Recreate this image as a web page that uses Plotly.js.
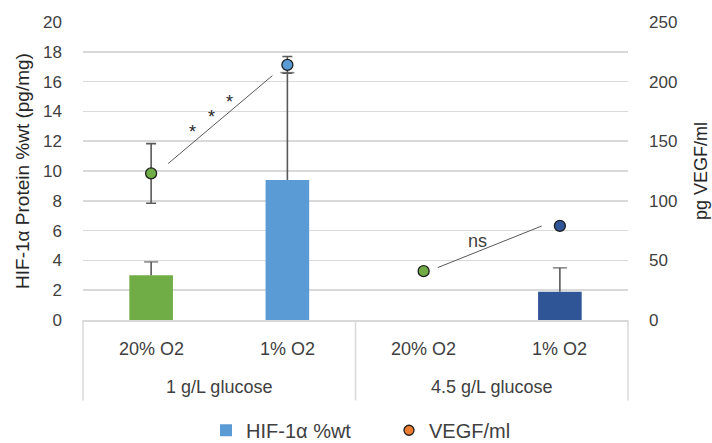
<!DOCTYPE html>
<html>
<head>
<meta charset="utf-8">
<script src="https://cdn.plot.ly/plotly-3.0.1.min.js"></script>
<style>
  html, body { margin: 0; padding: 0; background: #fff; }
  #chart { width: 712px; height: 443px; }
</style>
</head>
<body>
<div id="chart"></div>
<script>
// Glucose level (outer group) and oxygen condition (inner category)
const glucose = ["1 g/L glucose", "1 g/L glucose", "4.5 g/L glucose", "4.5 g/L glucose"];
const oxygen = ["20% O2", "1% O2", "20% O2", "1% O2"];

// HIF-1α protein (pg/mg), left axis, with upper error
const hifValues = [3.0, 9.4, null, 1.9];
const hifErrors = [0.9, 7.2, null, 1.6];

// VEGF (pg/ml), right axis, with symmetric error
const vegfValues = [123, 214, 41, 79];
const vegfErrors = [25, 7, 0, 0];

// Significance lines: [category offset, HIF value] endpoints
const sigLine1 = [[0.125, 10.5], [0.89, 16.4]];
const sigStars = [[0.306, 12.9], [0.446, 13.9], [0.575, 14.9]];
const sigLine2 = [[2.104, 3.52], [2.867, 6.31]];
const nsLabel = [2.393, 5.3];

const barColors = ["#70AD47", "#5B9BD5", "#70AD47", "#2F5597"];
const dotColors = ["#70AD47", "#5B9BD5", "#70AD47", "#2F5597"];

const FONT = "Liberation Sans, Arial, sans-serif";
const TXT = "#404040";
const GRID = "#D9D9D9";
const ERR = "#595959";

const nCat = oxygen.length;
const xCats = [glucose, oxygen];
// category index -> paper x (axis range is [-0.5, nCat - 0.5])
const cx = c => (c + 0.5) / nCat;

const traces = [
  {
    type: "bar",
    x: xCats,
    y: hifValues,
    width: 0.32,
    marker: { color: barColors },
    showlegend: false,
    hoverinfo: "skip"
  }
];

// Upward-only error bars on the HIF bars: a stem from the bar top plus a cap
hifValues.forEach((v, i) => {
  if (v == null || hifErrors[i] == null) return;
  traces.push({
    type: "scatter",
    mode: "lines+markers",
    x: [[glucose[i], glucose[i]], [oxygen[i], oxygen[i]]],
    y: [v, v + hifErrors[i]],
    line: { color: ERR, width: 1.6 },
    marker: { symbol: "line-ew-open", size: [0, 10], color: ERR, line: { color: ERR, width: 1.6 } },
    showlegend: false,
    hoverinfo: "skip"
  });
});

traces.push(
  {
    type: "scatter",
    mode: "markers",
    x: xCats,
    y: vegfValues,
    yaxis: "y2",
    marker: { size: 11, color: dotColors, line: { color: "#1F1F1F", width: 1.3 } },
    error_y: { type: "data", array: vegfErrors, color: ERR, thickness: 1.6, width: 5 },
    showlegend: false,
    hoverinfo: "skip"
  },
  // legend entries
  {
    type: "bar", name: "HIF-1α %wt", x: [[glucose[0]], [oxygen[0]]], y: [null],
    marker: { color: "#5B9BD5" }, showlegend: true
  },
  {
    type: "scatter", mode: "markers", name: "VEGF/ml", x: [[glucose[0]], [oxygen[0]]], y: [null],
    yaxis: "y2", marker: { size: 10, color: "#ED7D31", line: { color: "#1F1F1F", width: 1.3 } },
    showlegend: true
  }
);

const shapes = [sigLine1, sigLine2].map(seg => ({
  type: "line", xref: "paper", yref: "y",
  x0: cx(seg[0][0]), y0: seg[0][1], x1: cx(seg[1][0]), y1: seg[1][1],
  line: { color: ERR, width: 1 }
}));

// Group dividers below the axis (start, every group change, end)
const divX = [0];
for (let i = 1; i < nCat; i++) if (glucose[i] !== glucose[i - 1]) divX.push(i / nCat);
divX.push(1);
divX.forEach(p => shapes.push({
  type: "line", xref: "paper", yref: "paper", x0: p, x1: p, y0: 0, y1: -0.27,
  line: { color: GRID, width: 1.5 }
}));

const annotations = sigStars.map(s => ({
  xref: "paper", yref: "y", x: cx(s[0]), y: s[1], xanchor: "center", yanchor: "middle",
  text: "*", showarrow: false,
  font: { family: FONT, size: 18, color: "#262626" }, yshift: -4
}));
annotations.push({
  xref: "paper", yref: "y", x: cx(nsLabel[0]), y: nsLabel[1], xanchor: "center", yanchor: "middle",
  text: "ns", showarrow: false,
  font: { family: FONT, size: 18, color: TXT }
});

// Category labels: oxygen condition, then glucose group underneath
oxygen.forEach((o, i) => annotations.push({
  xref: "paper", yref: "paper", x: cx(i), y: -0.098, xanchor: "center", yanchor: "middle",
  text: o, showarrow: false,
  font: { family: FONT, size: 18, color: TXT }
}));
const groupNames = [...new Set(glucose)];
groupNames.forEach(g => {
  const idx = glucose.map((v, i) => v === g ? i : null).filter(v => v !== null);
  const mid = idx.reduce((a, b) => a + b, 0) / idx.length;
  annotations.push({
    xref: "paper", yref: "paper", x: cx(mid), y: -0.225, xanchor: "center", yanchor: "middle",
    text: g, showarrow: false,
    font: { family: FONT, size: 18, color: TXT }
  });
});

const layout = {
  width: 712, height: 443,
  margin: { l: 83, r: 84, t: 22, b: 123, autoexpand: false },
  paper_bgcolor: "#fff", plot_bgcolor: "#fff",
  font: { family: FONT, size: 17, color: TXT },
  barmode: "overlay",
  showlegend: true,
  legend: { orientation: "h", x: 0.2257, xanchor: "left", y: -0.37, yanchor: "middle",
            entrywidth: 138, entrywidthmode: "pixels",
            font: { family: FONT, size: 20, color: TXT }, traceorder: "normal" },
  xaxis: {
    type: "multicategory",
    showline: true, linecolor: GRID, linewidth: 1.5,
    showgrid: false, ticks: "", showticklabels: false, showdividers: false,
    range: [-0.5, nCat - 0.5]
  },
  yaxis: {
    range: [0, 20], dtick: 2, showgrid: true, gridcolor: GRID, gridwidth: 1.5,
    zeroline: false, showline: false, ticks: "", ticklabelstandoff: 20,
    tickfont: { family: FONT, size: 17, color: TXT },
    title: { text: "HIF-1α Protein %wt (pg/mg)", font: { family: FONT, size: 19, color: "#262626" }, standoff: 8 }
  },
  yaxis2: {
    overlaying: "y", side: "right", range: [0, 250], dtick: 50,
    showgrid: false, zeroline: false, showline: false, ticks: "", ticklabelstandoff: 20,
    tickfont: { family: FONT, size: 17, color: TXT },
    title: { text: "pg VEGF/ml", font: { family: FONT, size: 18, color: "#262626" }, standoff: 18 }
  },
  shapes: shapes,
  annotations: annotations
};

Plotly.newPlot("chart", traces, layout, { displayModeBar: false, staticPlot: true });
</script>
</body>
</html>
